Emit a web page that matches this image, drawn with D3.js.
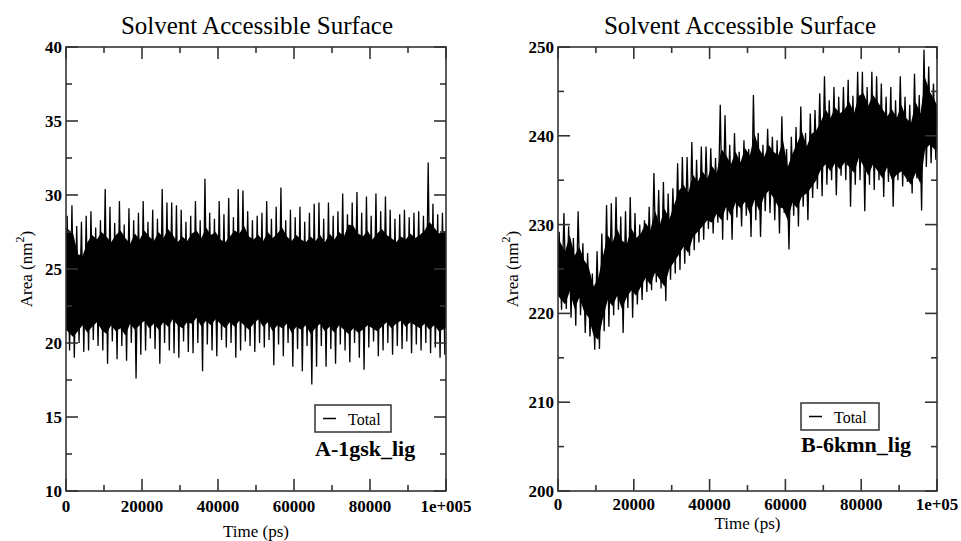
<!DOCTYPE html>
<html>
<head>
<meta charset="utf-8">
<script src="https://cdn.jsdelivr.net/npm/d3@7"></script>
<style>
  body { margin: 0; background: #fff; }
  svg { display: block; }
  text { font-family: "Liberation Serif", "Times New Roman", serif; fill: #000; }
</style>
</head>
<body>
<svg id="chart" width="961" height="541"></svg>
<script>
/* Solvent accessible surface, two runs (A-1gsk_lig, B-6kmn_lig) */

// 80 time bins of 1250 ps over the 100 ns run
var binTime = d3.range(80).map(function(i) { return 625 + i * 1250; });

// Panel A: spike extremes per bin (nm^2)
var hiA = [28.6, 29.3, 27.9, 28.2, 28.6, 28.9, 27.8, 28.3, 30.4, 29.2,
           28.1, 29.6, 28.0, 29.1, 28.3, 28.8, 29.6, 28.2, 29.0, 28.4,
           30.4, 29.5, 29.5, 29.3, 29.0, 28.2, 28.6, 29.6, 28.3, 31.1,
           28.8, 28.4, 29.6, 28.7, 29.8, 28.5, 30.4, 30.3, 28.9, 28.3,
           28.6, 28.8, 29.6, 28.4, 29.2, 30.5, 28.3, 29.0, 28.5, 29.2,
           28.2, 28.8, 29.4, 29.5, 28.4, 29.5, 28.6, 28.9, 30.1, 28.7,
           29.5, 30.2, 28.8, 29.9, 28.6, 30.1, 28.9, 29.9, 29.0, 28.4,
           28.7, 29.0, 28.5, 28.8, 28.9, 28.6, 32.2, 29.4, 28.7, 28.8];
var loA = [19.5, 19.0, 20.0, 19.4, 19.5, 20.2, 19.8, 19.5, 18.6, 20.1,
           18.9, 19.8, 18.8, 20.0, 17.6, 19.2, 19.5, 20.3, 19.6, 18.6,
           20.0, 19.5, 19.3, 19.0, 20.1, 19.4, 19.3, 20.0, 18.1, 19.9,
           19.5, 19.1, 20.2, 19.7, 20.0, 19.0, 19.5, 20.1, 19.8, 19.4,
           20.0, 19.7, 20.2, 18.5, 19.9, 19.1, 20.0, 18.4, 19.6, 18.1,
           19.8, 17.2, 18.4, 19.8, 18.4, 19.6, 18.6, 19.9, 19.5, 18.7,
           20.0, 19.0, 18.2, 19.7, 20.1, 19.1, 19.5, 20.0, 19.2, 19.8,
           19.6, 20.1, 19.3, 19.9, 19.5, 20.0, 19.3, 19.7, 19.0, 19.2];
// Panel A: edges of the solid core per bin
var bandHiA = [27.8, 27.4, 26.0, 25.9, 26.8, 27.3, 27.0, 27.5, 27.2, 26.8,
               27.3, 27.6, 27.1, 26.7, 27.4, 27.0, 27.6, 27.2, 26.9, 27.5,
               27.1, 27.7, 27.3, 26.8, 27.2, 26.9, 27.4, 27.6, 27.1, 27.8,
               27.3, 27.5, 27.0, 26.8, 27.2, 27.6, 27.4, 27.9, 27.2, 27.0,
               27.3, 26.9, 27.5, 27.1, 27.4, 27.8, 27.2, 26.9, 27.3, 27.0,
               26.8, 27.2, 26.9, 27.3, 26.8, 27.4, 27.0, 27.5, 27.2, 28.0,
               27.9, 27.4, 27.2, 27.6, 27.0, 27.4, 27.7, 27.3, 27.1, 26.8,
               27.2, 27.0, 27.4, 27.1, 27.3, 27.6, 28.2, 27.8, 27.4, 27.6];
var bandLoA = [20.9, 20.4, 20.8, 21.2, 20.7, 21.1, 21.4, 20.9, 20.6, 21.2,
               20.8, 21.0, 20.5, 21.3, 20.9, 21.2, 21.5, 21.0, 21.3, 20.9,
               21.4, 21.1, 21.6, 21.2, 21.0, 21.4, 21.3, 21.7, 21.1, 21.5,
               21.2, 21.6, 21.3, 21.0, 21.4, 21.1, 21.5, 21.2, 20.9, 21.3,
               21.6, 21.1, 21.4, 20.8, 21.2, 21.0, 21.3, 20.7, 21.1, 20.9,
               21.2, 20.6, 21.0, 21.3, 20.8, 21.1, 20.7, 21.2, 20.9, 20.6,
               21.0, 20.7, 20.9, 21.2, 21.0, 20.8, 21.1, 21.4, 21.0, 21.3,
               21.5, 21.1, 21.4, 21.2, 21.0, 21.3, 20.9, 21.2, 20.8, 21.0];

// Panel B: spike extremes per bin (nm^2)
var hiB = [229.2, 231.3, 229.8, 228.5, 231.5, 227.9, 226.8, 224.5, 227.0, 229.0,
           232.2, 232.4, 233.1, 230.9, 231.5, 233.1, 231.3, 230.0, 230.5, 232.0,
           235.8, 233.9, 234.8, 233.5, 234.1, 236.9, 237.6, 237.6, 239.3, 237.3,
           238.8, 238.8, 238.6, 237.5, 243.5, 242.3, 239.0, 240.3, 238.2, 239.5,
           238.5, 244.6, 240.3, 239.0, 240.8, 239.9, 239.5, 242.2, 238.5, 239.9,
           241.0, 243.3, 240.3, 242.5, 242.9, 244.8, 246.7, 244.0, 245.5, 244.4,
           245.5, 246.3, 244.5, 247.2, 247.2, 245.5, 247.2, 246.7, 245.9, 244.4,
           245.5, 244.0, 246.7, 244.4, 243.5, 247.0, 244.6, 249.7, 247.8, 245.9];
var loB = [220.4, 220.5, 219.5, 218.6, 219.8, 217.8, 217.4, 215.9, 216.0, 218.0,
           218.5, 219.8, 220.4, 217.8, 220.6, 219.5, 221.0, 221.5, 222.4, 222.6,
           223.5, 222.8, 221.4, 223.8, 224.5, 224.9, 225.6, 226.5, 227.1, 228.0,
           228.3, 229.5, 229.0, 230.2, 228.3, 230.5, 228.3, 230.8, 229.8, 231.0,
           228.6, 230.5, 228.6, 231.5, 231.3, 230.5, 229.0, 231.3, 227.2, 231.0,
           229.8, 232.0, 230.5, 233.0, 234.0, 233.2, 234.5, 235.0, 233.3, 235.5,
           235.0, 232.0, 234.5, 235.0, 231.5, 234.5, 233.9, 235.0, 233.1, 234.8,
           232.0, 235.0, 234.3, 234.8, 233.5, 235.2, 231.6, 236.5, 236.9, 237.3];
// Panel B: edges of the solid core per bin
var bandHiB = [228.5, 227.0, 228.8, 226.5, 227.5, 226.0, 225.2, 223.0, 224.0, 226.5,
               228.8, 228.0, 229.5, 228.2, 227.8, 229.6, 228.5, 229.0, 230.2, 229.4,
               231.5, 230.0, 231.8, 230.6, 232.2, 233.8, 234.5, 233.6, 235.6, 234.8,
               236.0, 235.2, 236.6, 235.8, 238.5, 237.8, 236.8, 238.2, 237.0, 238.6,
               237.8, 240.2, 238.5, 237.6, 239.0, 238.2, 237.8, 239.5, 236.5, 238.0,
               239.2, 240.5, 238.8, 240.2, 240.6, 241.6, 243.0, 242.0, 243.2, 242.5,
               243.0, 243.8, 242.6, 244.5, 244.8, 243.4, 244.6, 243.8, 243.0, 242.2,
               243.0, 242.0, 243.5, 242.0, 241.4, 243.8, 242.5, 246.5, 245.0, 243.5];
var bandLoB = [222.0, 221.0, 222.5, 220.5, 221.8, 220.2, 219.5, 217.5, 217.0, 219.5,
               221.5, 220.8, 222.0, 220.5, 221.8, 222.6, 222.0, 223.0, 224.0, 223.2,
               224.6, 223.8, 223.0, 225.0, 225.8, 226.6, 227.5, 226.8, 228.6, 229.2,
               229.8, 230.5, 230.2, 231.2, 230.5, 232.0, 231.0, 232.5, 231.8, 232.6,
               231.2, 232.8, 231.5, 233.2, 233.8, 233.0, 232.0, 231.8, 230.5, 232.5,
               231.8, 233.2, 233.5, 234.2, 235.0, 236.2, 236.8, 236.0, 236.9, 236.2,
               237.0, 236.5, 235.8, 237.5, 236.6, 235.5, 236.8, 236.0, 235.2, 236.5,
               235.0, 235.6, 236.0, 235.2, 234.5, 235.8, 234.6, 238.5, 239.0, 238.2];

// Tick labels
var xLabelsA = ['0', '20000', '40000', '60000', '80000', '1e+005'];
var xLabelsB = ['0', '20000', '40000', '60000', '80000', '1e+05'];

var svg = d3.select('#chart');

function drawPanel(p) {

	var g = svg.append('g');

	// Scales
	var x = d3.scaleLinear().domain([0, 100000]).range([p.left, p.right]);
	var y = d3.scaleLinear().domain(p.yDomain).range([p.bottom, p.top]);

	// Clip to plot area
	g.append('clipPath')
		.attr('id', 'clip' + p.id)
		.append('rect')
		.attr('x', p.left).attr('y', p.top)
		.attr('width', p.right - p.left).attr('height', p.bottom - p.top);

	var plot = g.append('g').attr('clip-path', 'url(#clip' + p.id + ')');

	// Solid core of the trace (first and last bins stretched to the frame)
	var last = binTime.length - 1;
	var area = d3.area()
		.x(function(d, i) { return x(i === 0 ? 0 : i === last ? 100000 : d.t); })
		.y0(function(d) { return y(d.lo); })
		.y1(function(d) { return y(d.hi); });

	plot.append('path')
		.datum(binTime.map(function(t, i) { return {t: t, hi: p.bandHi[i], lo: p.bandLo[i]}; }))
		.attr('d', area)
		.attr('fill', '#000');

	// Trace: alternate between upper and lower extreme of every bin
	var pts = [];
	binTime.forEach(function(t, i) {
		pts.push([t - 312, p.hi[i]]);
		pts.push([t + 312, p.lo[i]]);
	});

	plot.append('path')
		.datum(pts)
		.attr('d', d3.line()
			.x(function(d) { return x(d[0]); })
			.y(function(d) { return y(d[1]); }))
		.attr('fill', 'none')
		.attr('stroke', '#000')
		.attr('stroke-width', 1.3);

	// Axes, ticks pointing inward on all four sides
	var frame = g.append('g').attr('stroke', '#333').attr('stroke-width', 1.6);

	var yMajor = d3.range(p.yDomain[0], p.yDomain[1] + 0.001, p.yStep);
	var yMinor = d3.range(p.yDomain[0] + p.yStep / 2, p.yDomain[1], p.yStep);
	var xMajor = d3.range(0, 100001, 20000);
	var xMinor = d3.range(10000, 100000, 20000);

	yMajor.concat(yMinor).forEach(function(v) {
		var len = yMajor.indexOf(v) > -1 ? 12 : 6;
		frame.append('line').attr('x1', p.left).attr('x2', p.left + len).attr('y1', y(v)).attr('y2', y(v));
		frame.append('line').attr('x1', p.right).attr('x2', p.right - len).attr('y1', y(v)).attr('y2', y(v));
	});
	xMajor.concat(xMinor).forEach(function(v) {
		var len = xMajor.indexOf(v) > -1 ? 12 : 6;
		frame.append('line').attr('y1', p.bottom).attr('y2', p.bottom - len).attr('x1', x(v)).attr('x2', x(v));
		frame.append('line').attr('y1', p.top).attr('y2', p.top + len).attr('x1', x(v)).attr('x2', x(v));
	});

	frame.append('rect')
		.attr('x', p.left).attr('y', p.top)
		.attr('width', p.right - p.left).attr('height', p.bottom - p.top)
		.attr('fill', 'none');

	// Tick labels
	g.selectAll('.ylab')
		.data(yMajor)
		.enter()
		.append('text')
		.attr('x', p.left - 4)
		.attr('y', function(d) { return y(d); })
		.attr('dy', '0.35em')
		.attr('text-anchor', 'end')
		.style('font-size', '17px')
		.style('font-weight', 'bold')
		.text(function(d) { return d; });

	g.selectAll('.xlab')
		.data(xMajor)
		.enter()
		.append('text')
		.attr('x', function(d) { return x(d); })
		.attr('y', p.bottom + p.xLabelGap)
		.attr('text-anchor', 'middle')
		.style('font-size', '17px')
		.style('font-weight', 'bold')
		.text(function(d, i) { return p.xLabels[i]; });

	// Title
	g.append('text')
		.attr('x', p.titleX).attr('y', 34)
		.attr('text-anchor', 'middle')
		.style('font-size', '25px')
		.text('Solvent Accessible Surface');

	// Axis titles
	g.append('text')
		.attr('x', (p.left + p.right) / 2).attr('y', p.xTitleY)
		.attr('text-anchor', 'middle')
		.style('font-size', '17px')
		.text('Time (ps)');

	var yt = g.append('text')
		.attr('transform', 'translate(' + p.yTitleX + ',' + ((p.top + p.bottom) / 2) + ')rotate(-90)')
		.attr('text-anchor', 'middle')
		.style('font-size', '17px');
	yt.append('tspan').text('Area (nm');
	yt.append('tspan').attr('dy', -8).style('font-size', '12px').text('2');
	yt.append('tspan').attr('dy', 8).text(')');

	// Legend
	var lg = g.append('g').attr('transform', 'translate(' + p.legend[0] + ',' + p.legend[1] + ')');
	lg.append('rect')
		.attr('width', p.legend[2]).attr('height', 27)
		.attr('fill', '#fff').attr('stroke', '#333').attr('stroke-width', 1.5);
	lg.append('line')
		.attr('x1', 8).attr('x2', 21).attr('y1', 13.5).attr('y2', 13.5)
		.attr('stroke', '#000').attr('stroke-width', 1.5);
	lg.append('text')
		.attr('x', 33).attr('y', 19.5)
		.style('font-size', '16px')
		.text('Total');

	// Run label
	g.append('text')
		.attr('x', p.legend[0]).attr('y', p.tagY)
		.style('font-size', '22px')
		.style('font-weight', 'bold')
		.text(p.tag);
}

drawPanel({
	id: 'A', left: 66, right: 446, top: 47, bottom: 491,
	yDomain: [10, 40], yStep: 5,
	hi: hiA, lo: loA, bandHi: bandHiA, bandLo: bandLoA,
	xLabels: xLabelsA, xLabelGap: 21,
	titleX: 257, xTitleY: 537, yTitleX: 32,
	legend: [315, 405, 76], tag: 'A-1gsk_lig', tagY: 456
});

drawPanel({
	id: 'B', left: 558, right: 937, top: 47, bottom: 491,
	yDomain: [200, 250], yStep: 10,
	hi: hiB, lo: loB, bandHi: bandHiB, bandLo: bandLoB,
	xLabels: xLabelsB, xLabelGap: 19,
	titleX: 740, xTitleY: 529, yTitleX: 518,
	legend: [801, 403, 78], tag: 'B-6kmn_lig', tagY: 452
});
</script>
</body>
</html>
